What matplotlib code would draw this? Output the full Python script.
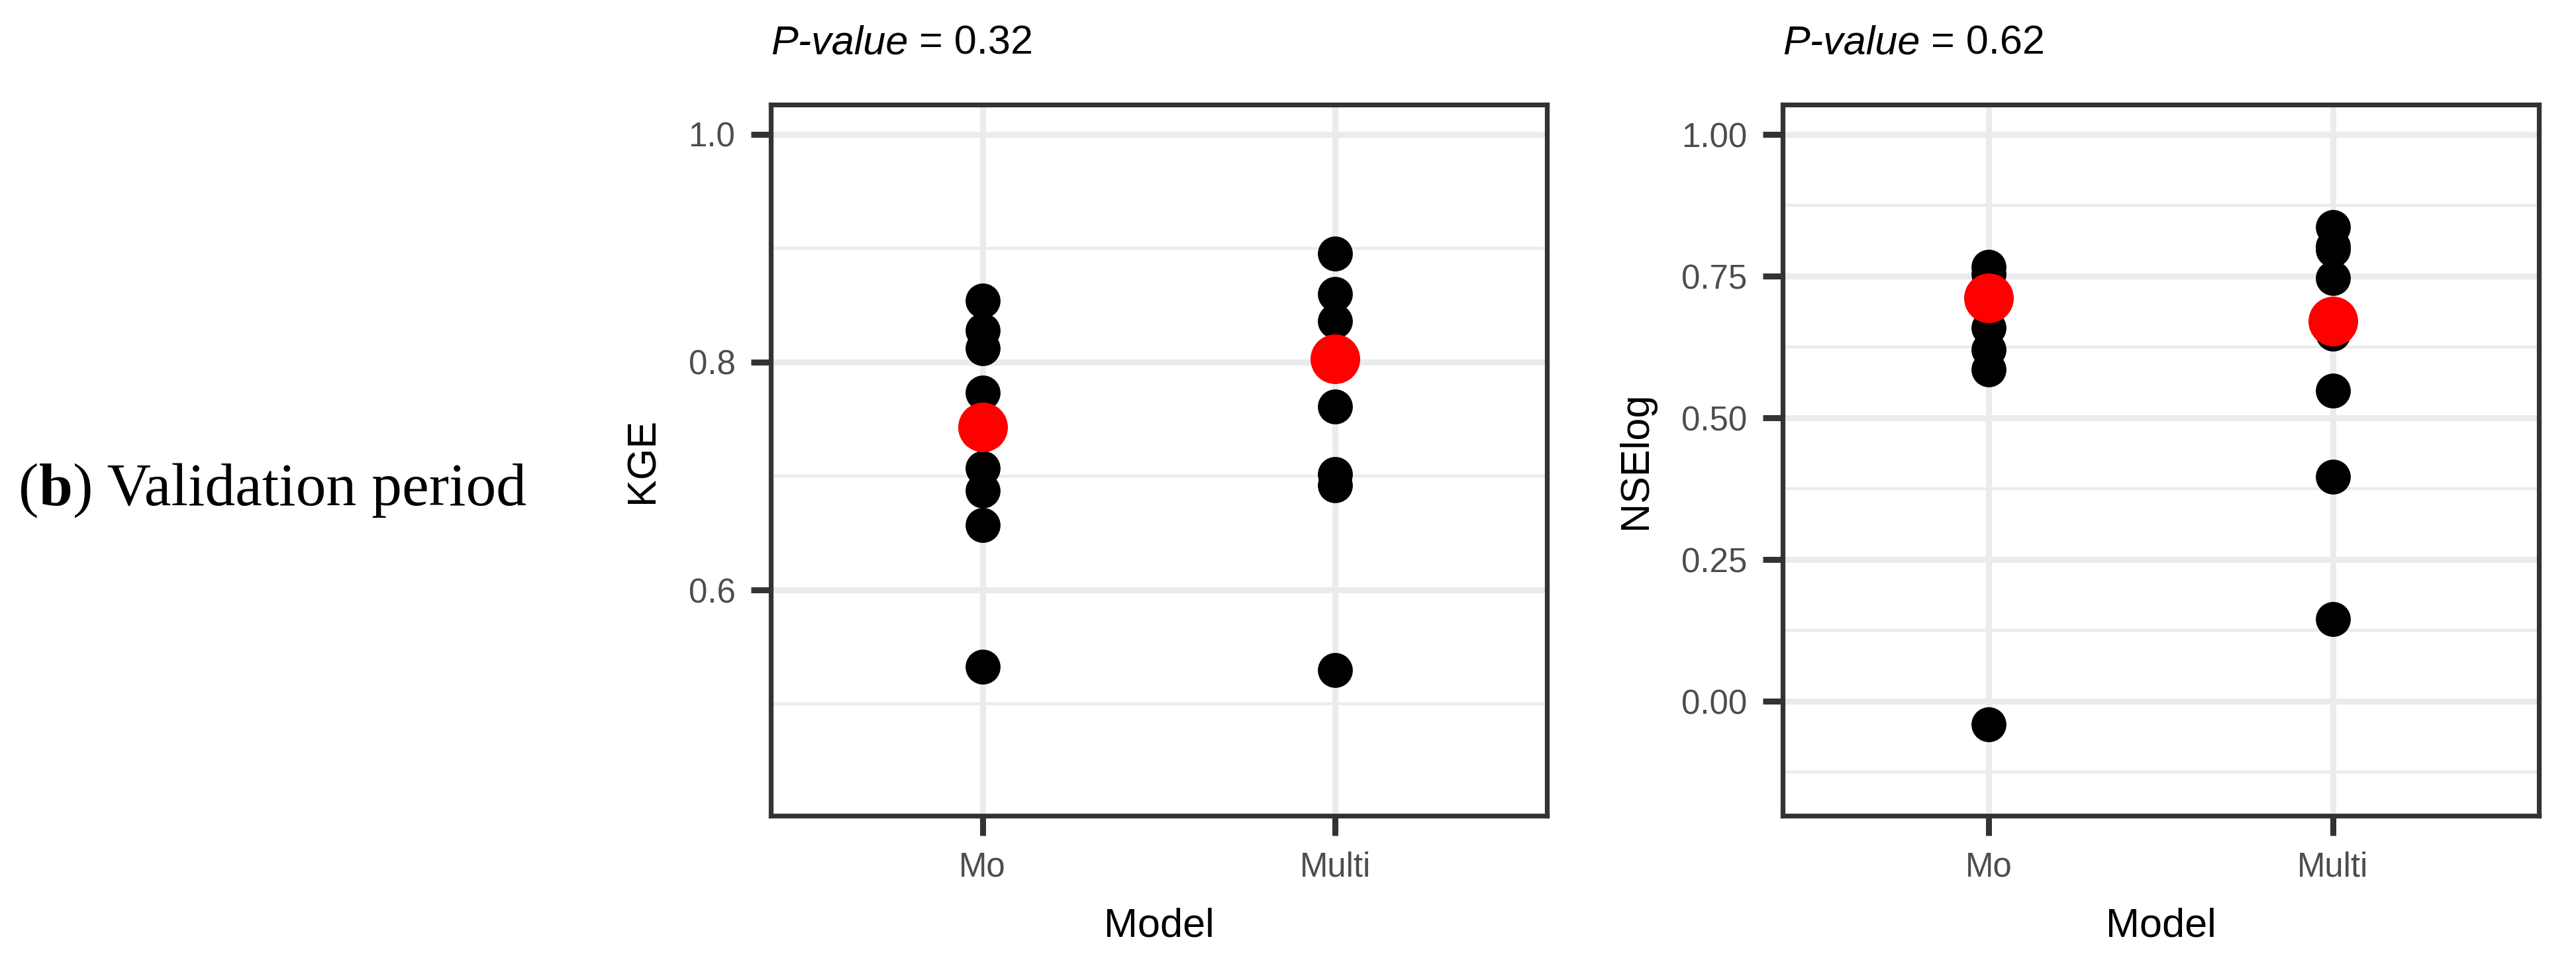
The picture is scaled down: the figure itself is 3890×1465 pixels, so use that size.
import matplotlib
matplotlib.use('Agg')
import matplotlib.pyplot as plt
from matplotlib import ticker, rcParams

rcParams['font.family'] = 'Liberation Sans'

# categories on x
models = ['Mo', 'Multi']

# KGE, validation period
kge_mo = [0.854, 0.828, 0.812, 0.773, 0.707, 0.687, 0.657, 0.533]
kge_multi = [0.895, 0.860, 0.836, 0.761, 0.702, 0.692, 0.530]
kge_red = [0.743, 0.803]
kge_pvalue = '0.32'

# NSElog, validation period
nse_mo = [0.766, 0.754, 0.659, 0.620, 0.585, -0.041]
nse_multi = [0.836, 0.803, 0.797, 0.746, 0.649, 0.548, 0.396, 0.145]
nse_red = [0.711, 0.671]
nse_pvalue = '0.62'

kge_ticks = [0.6, 0.8, 1.0]
kge_minor = [0.5, 0.7, 0.9]
nse_ticks = [0.0, 0.25, 0.5, 0.75, 1.0]
nse_minor = [-0.125, 0.125, 0.375, 0.625, 0.875]

W, H = 3890, 1465
fig = plt.figure(figsize=(W / 100, H / 100), dpi=100)

grid_col = '#EBEBEB'
dark = '#333333'


def panel(rect, ylab, mo, multi, red, ylim, major, minor, fmt, pval):
    ax = fig.add_axes(rect)
    ax.scatter([1] * len(mo), mo, s=38 ** 2, c='black', linewidths=0, zorder=3)
    ax.scatter([2] * len(multi), multi, s=38 ** 2, c='black', linewidths=0, zorder=3)
    ax.scatter([1, 2], red, s=54 ** 2, c='red', linewidths=0, zorder=4)
    ax.set_xlim(0.4, 2.6)
    ax.set_ylim(*ylim)
    ax.set_xticks([1, 2], labels=models)
    ax.yaxis.set_major_locator(ticker.FixedLocator(major))
    ax.yaxis.set_minor_locator(ticker.FixedLocator(minor))
    ax.yaxis.set_major_formatter(ticker.FormatStrFormatter(fmt))
    ax.set_axisbelow(True)
    ax.grid(which='major', color=grid_col, lw=6.5)
    ax.grid(which='minor', axis='y', color=grid_col, lw=3.2)
    ax.tick_params(which='major', length=21.6, width=6.5, pad=17, labelsize=36.7,
                   labelcolor='#4D4D4D', color=dark)
    ax.tick_params(which='minor', length=0)
    for sp in ax.spines.values():
        sp.set_color(dark)
        sp.set_linewidth(5.2)
    ax.set_ylabel(ylab, fontsize=44, labelpad=28.8)
    ax.set_xlabel('Model', fontsize=44, labelpad=26)

    # p-value above panel: italic "P-value" then plain " = x"
    ybase = (H - 81 - (H - 1232)) / 1074
    t = ax.text(0, ybase, 'P-value', style='italic', fontsize=44,
                transform=ax.transAxes, va='baseline', ha='left')
    ax.annotate(' = ' + pval, xy=(1, 0), xycoords=t, fontsize=44,
                va='bottom', ha='left')
    return ax


bottom = 1 - 1232 / H
height = 1074 / H
ax1 = panel([1164 / W, bottom, 1172 / W, height], 'KGE', kge_mo, kge_multi, kge_red,
            (0.402, 1.026), kge_ticks, kge_minor, '%.1f', kge_pvalue)
ax2 = panel([2692 / W, bottom, 1142 / W, height], 'NSElog', nse_mo, nse_multi, nse_red,
            (-0.202, 1.0526), nse_ticks, nse_minor, '%.2f', nse_pvalue)

# row label "(b) Validation period", b in bold
serif = 'Liberation Serif'
t1 = fig.text(28 / W, 1 - 763 / H, '(', fontsize=66, family=serif, va='baseline', ha='left')
t2 = ax1.annotate('b', xy=(1, 0), xycoords=t1, fontsize=66, family=serif,
                  fontweight='bold', va='bottom', ha='left')
ax1.annotate(') Validation period', xy=(1, 0), xycoords=t2, fontsize=66, family=serif,
             va='bottom', ha='left')

fig.savefig('out.png', dpi=100)
